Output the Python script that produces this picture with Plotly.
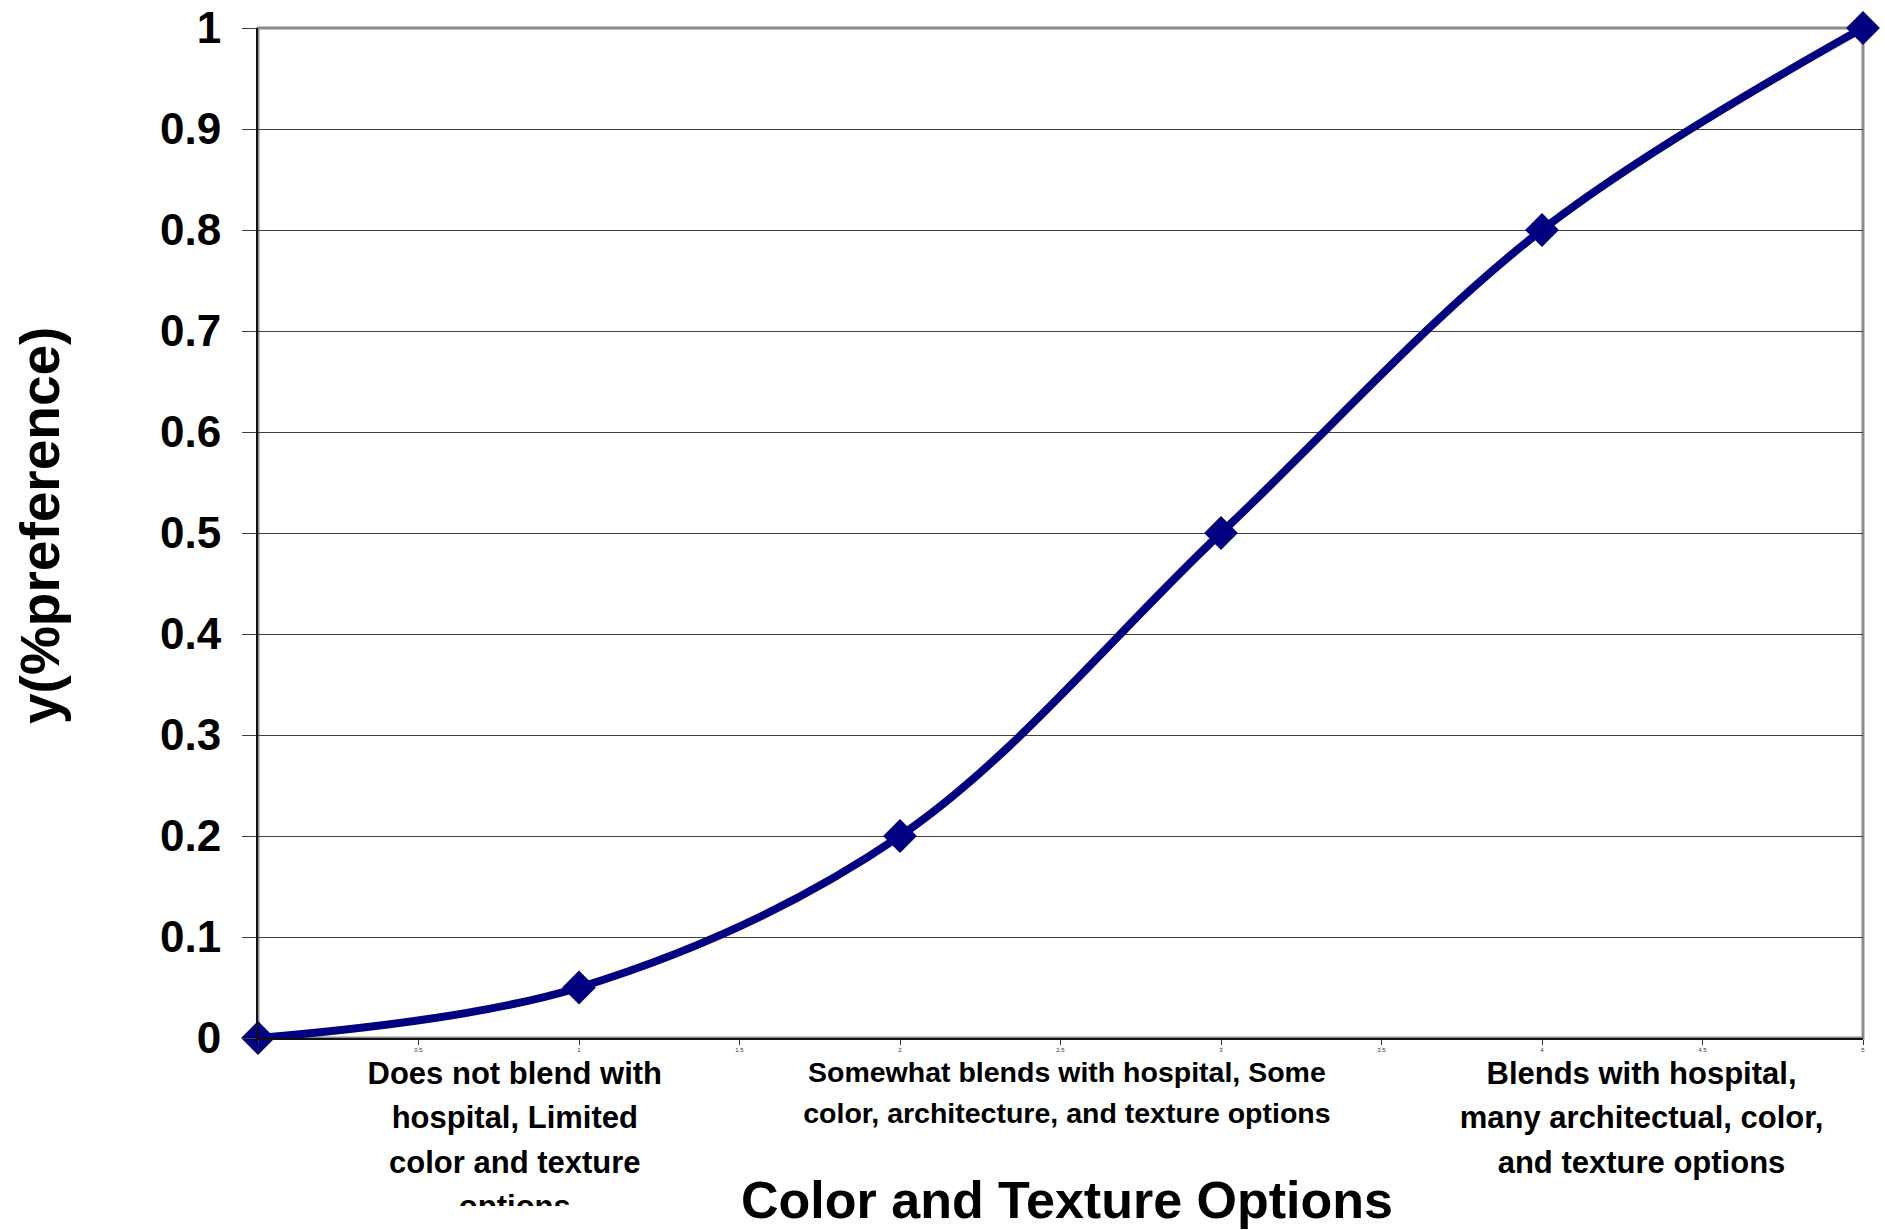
import plotly.graph_objects as go

# Preference curve for color / texture options
option_level = [0, 1, 2, 3, 4, 5]
preference = [0, 0.05, 0.2, 0.5, 0.8, 1.0]

# Descriptive category labels shown beneath the axis (one entry per text line)
category_x = [0.8, 2.52, 4.31]
category_lines = [
    ["Does not blend with", "hospital, Limited", "color and texture", "options"],
    ["Somewhat blends with hospital, Some", "color, architecture, and texture options"],
    ["Blends with hospital,", "many architectual, color,", "and texture options"],
]

x_title = "Color and Texture Options"
y_title = "y(%preference)"

W, H = 1885, 1230
M_L, M_R, M_T, M_B = 258, 22, 28, 0
PLOT_BOTTOM_PX = 1038
paper_h = H - M_T - M_B


def py(px):
    """Convert a pixel row (from the top of the page) to paper y."""
    return (H - px) / paper_h


FONT = "Liberation Sans, Arial, sans-serif"
NAVY = "#000080"

# Text band under the x axis: its own subplot so the lowest line gets clipped
BAND_TOP, BAND_BOTTOM = 1045, 1206
line_start = [1076, 1075, 1076]
line_gap = [44.5, 41.0, 44.5]
label_size = [31, 28.5, 31]

txt_x, txt_y, txt, txt_size = [], [], [], []
for k, lines in enumerate(category_lines):
    for i, s in enumerate(lines):
        txt_x.append(category_x[k])
        txt_y.append(line_start[k] + i * line_gap[k])
        txt.append(s)
        txt_size.append(label_size[k])

fig = go.Figure()

fig.add_trace(go.Scatter(
    x=option_level, y=preference,
    mode="lines+markers",
    line=dict(color=NAVY, width=8, shape="spline", smoothing=1.0),
    marker=dict(symbol="diamond", size=26, color=NAVY, line=dict(width=0)),
    cliponaxis=False,
    showlegend=False,
    hoverinfo="x+y",
))

fig.add_trace(go.Scatter(
    x=txt_x, y=txt_y, text=txt,
    mode="text",
    textposition="middle center",
    textfont=dict(family=FONT, size=txt_size, color="black", weight="bold"),
    cliponaxis=True,
    xaxis="x2", yaxis="y2",
    showlegend=False,
    hoverinfo="skip",
))

main_bottom = py(PLOT_BOTTOM_PX)

fig.update_layout(
    template="none",
    width=W, height=H, autosize=False,
    showlegend=False,
    margin=dict(l=M_L, r=M_R, t=M_T, b=M_B, pad=0, autoexpand=False),
    paper_bgcolor="white", plot_bgcolor="white",
    xaxis=dict(
        domain=[0, 1], range=[0, 5], tick0=0, dtick=0.5,
        showgrid=False, zeroline=False, automargin=False,
        showline=True, linecolor="#111111", linewidth=1.5,
        ticks="outside", ticklen=5, tickwidth=1, tickcolor="#333333",
        tickfont=dict(family=FONT, size=6, color="#333333"),
        anchor="y",
    ),
    yaxis=dict(
        domain=[main_bottom, 1], range=[0, 1], tick0=0, dtick=0.1,
        showgrid=True, gridcolor="#404040", gridwidth=1,
        zeroline=False, automargin=False,
        showline=True, linecolor="#111111", linewidth=2,
        ticks="outside", ticklen=14, tickwidth=1, tickcolor="#404040",
        tickfont=dict(family=FONT, size=44, color="black", weight="bold"),
        ticklabelstandoff=12,
        anchor="x",
    ),
    xaxis2=dict(domain=[0, 1], range=[0, 5], visible=False, anchor="y2",
                automargin=False),
    yaxis2=dict(domain=[py(BAND_BOTTOM), py(BAND_TOP)],
                range=[BAND_BOTTOM, BAND_TOP], visible=False, anchor="x2",
                automargin=False),
    shapes=[dict(
        type="rect", xref="x domain", yref="y domain",
        x0=0, x1=1, y0=0, y1=1,
        line=dict(color="#8c8c8c", width=3), layer="below",
    )],
    annotations=[
        dict(text=y_title, textangle=-90, showarrow=False,
             xref="paper", yref="paper",
             x=(40 - M_L) / (W - M_L - M_R), y=py(525),
             xanchor="center", yanchor="middle",
             font=dict(family=FONT, size=55, color="black", weight="bold")),
        dict(text=x_title, showarrow=False,
             xref="paper", yref="paper",
             x=(1067 - M_L) / (W - M_L - M_R), y=py(1200),
             xanchor="center", yanchor="middle",
             font=dict(family=FONT, size=52, color="black", weight="bold")),
    ],
)

fig.write_html("out.html")
